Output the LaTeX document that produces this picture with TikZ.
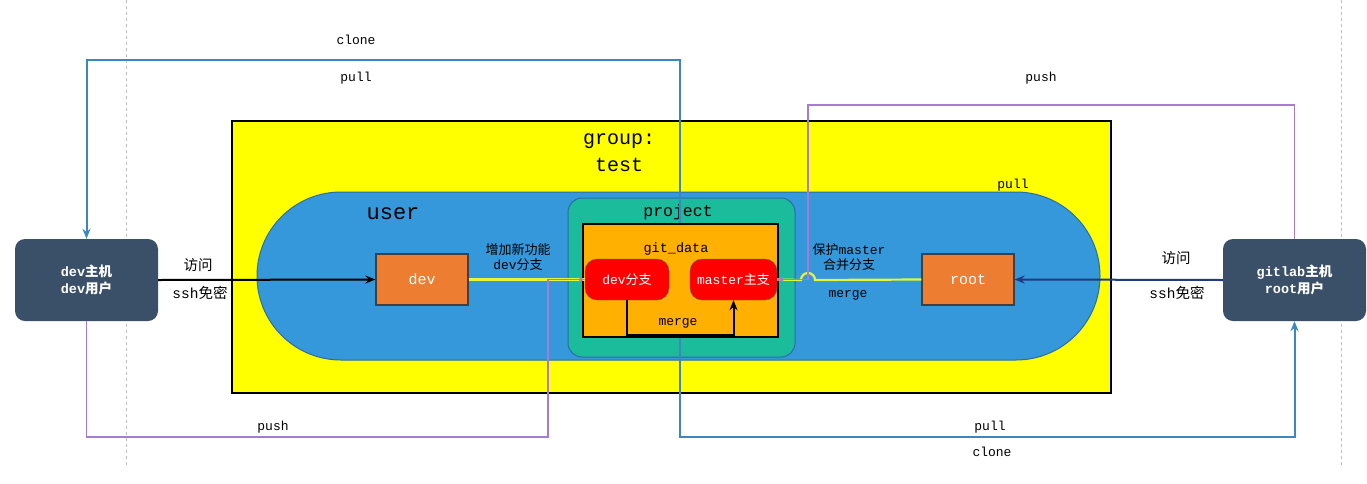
\documentclass[tikz,border=0pt]{standalone}
\usepackage{fontspec}
\setmainfont{Liberation Mono}
\newfontfamily\cjk{Noto Sans CJK SC}
\newcommand{\zh}[1]{{\cjk #1}}
\usetikzlibrary{arrows.meta}
\definecolor{groupyellow}{HTML}{FFFF00}
\definecolor{userblue}{HTML}{3498DB}
\definecolor{userline}{HTML}{2A6DA6}
\definecolor{projteal}{HTML}{1ABC9C}
\definecolor{dataorange}{HTML}{FFB000}
\definecolor{boxorange}{HTML}{ED7D31}
\definecolor{hostblue}{HTML}{3A5069}
\definecolor{syncblue}{HTML}{3C87C2}
\definecolor{pushpurple}{HTML}{A77BD3}
\definecolor{sshblue}{HTML}{1F3A80}
\definecolor{linkyellow}{HTML}{E4F53A}

\begin{document}
\begin{tikzpicture}[x=1pt, y=-1pt,
	box/.style={draw=black!75, line width=1.2pt, fill=boxorange, text=white, minimum width=92pt, minimum height=51pt, font=\fontsize{15}{17}\selectfont},
	branch/.style={draw=black!60, fill=red, rounded corners=12pt, text=white, minimum height=41pt, inner sep=1pt, font=\fontsize{13}{15}\selectfont},
	host/.style={fill=hostblue, rounded corners=10pt, text=white, minimum width=143pt, minimum height=82pt, align=center, font=\bfseries\fontsize{13.5}{17}\selectfont},
	lbl/.style={font=\fontsize{14.5}{17}\selectfont, align=center, inner sep=1pt},
	small/.style={font=\fontsize{13}{15}\selectfont, align=center, inner sep=1pt},
	tip/.style={-{Stealth[length=10pt,width=8pt]}},
	sync/.style={draw=syncblue, line width=2pt, {Stealth[length=10pt,width=8pt]}-{Stealth[length=10pt,width=8pt]}},
	push/.style={draw=pushpurple, line width=1.5pt, -{Stealth[length=7pt,width=6pt]}},
	link/.style={draw=linkyellow, line width=2.2pt}]
	\useasboundingbox (0,0) rectangle (1367,483);
	\draw [dashed, gray!50, line width=0.8pt] (126,0) -- (126,465);
	\draw [dashed, gray!50, line width=0.8pt] (1341,0) -- (1341,465);

	\node [host] (devhost) at (86.5,280) {dev\zh{主机}\\dev\zh{用户}};
	\node [host] (gitlabhost) at (1294.5,280) {gitlab\zh{主机}\\root\zh{用户}};

	\node [draw, line width=2.2pt, fill=groupyellow, minimum width=879pt, minimum height=272pt] (group) at (671.5,257) {};
	\node [font=\fontsize{20}{27}\selectfont, align=center] (grouplabel) at (619,153) {group:\\test};
	\node [draw=userline, line width=1pt, fill=userblue, rounded corners=84pt, minimum width=843pt, minimum height=168pt] (user) at (678.5,276) {};
	\node [font=\fontsize{22}{24}\selectfont] (userlabel) at (393,214) {user};
	\node [draw=userline, line width=1pt, fill=projteal, rounded corners=14pt, minimum width=227pt, minimum height=159pt] (project) at (681.5,277.5) {};
	\node [font=\fontsize{16.5}{18}\selectfont] (projectlabel) at (678,212) {project};

	\coordinate (cl1) at (680,60);
	\coordinate (cl2) at (680,437);
	\draw [sync] (devhost.north) |- (cl1) -- (cl2) -| (gitlabhost.south);

	\node [draw=black, line width=1.5pt, fill=dataorange, minimum width=195pt, minimum height=113pt] (gitdata) at (680.5,280.5) {};
	\node [font=\fontsize{13.5}{15}\selectfont] (gitdatalabel) at (676,249) {git\_data};
	\node [branch, minimum width=84pt] (devbranch) at (627,279.5) {dev\zh{分支}};
	\node [branch, minimum width=87pt] (masterbranch) at (733.5,279.5) {master\zh{主支}};
	\node [box] (devbox) at (422,279.5) {dev};
	\node [box] (rootbox) at (968,279.5) {root};

	\draw [tip, line width=2pt] (devbranch.south) -- ++(0,35) -| (masterbranch.south);
	\node [small] (mergein) at (678,323) {merge};

	\draw [tip, line width=2pt] (devhost.east) -- (devbox.west);
	\draw [tip, draw=sshblue, line width=2pt] (gitlabhost.west) -- (rootbox.east);
	\draw [link] (devbox.east) -- (devbranch.west);
	\draw [link] (rootbox.west) -- (815,280) arc (0:-180:7) -- (masterbranch.east);

	\coordinate (pl) at (548,437);
	\coordinate (pr) at (808,105);
	\draw [push] (devhost.south) |- (pl) |- (devbranch.west);
	\draw [push] (gitlabhost.north) |- (pr) |- (masterbranch.east);

	\node [lbl] (visitl) at (198,265) {\zh{访问}};
	\node [lbl] (sshl) at (200,293) {ssh\zh{免密}};
	\node [lbl] (visitr) at (1176,258) {\zh{访问}};
	\node [lbl] (sshr) at (1177,293) {ssh\zh{免密}};
	\node [small] (feature) at (518,257) {\zh{增加新功能}\\dev\zh{分支}};
	\node [small] (protect) at (849,257) {\zh{保护}master\\\zh{合并分支}};
	\node [small] (mergeout) at (848,295) {merge};
	\node [small] (clonetop) at (356,40) {clone};
	\node [small] (pulltop) at (356,78) {pull};
	\node [small] (pushtop) at (1041,78) {push};
	\node [small] (pulluser) at (1013,185) {pull};
	\node [small] (pushbottom) at (273,427) {push};
	\node [small] (pullbottom) at (990,427) {pull};
	\node [small] (clonebottom) at (992,452) {clone};
\end{tikzpicture}
\end{document}
